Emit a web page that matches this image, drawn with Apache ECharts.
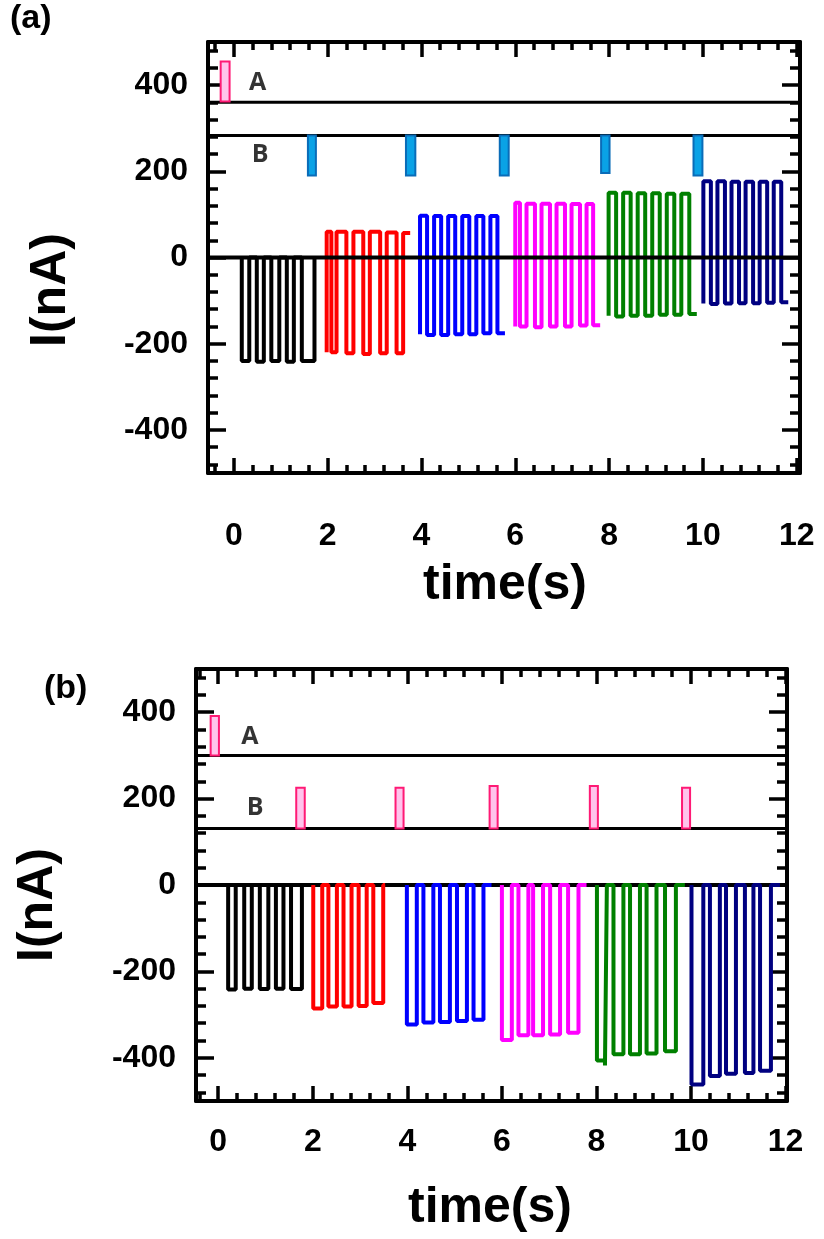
<!DOCTYPE html>
<html><head><meta charset="utf-8">
<script src="https://cdn.jsdelivr.net/npm/echarts@6/dist/echarts.min.js"></script>
<style>html,body{margin:0;padding:0;background:#fff}#c{width:824px;height:1239px}</style>
</head><body><div id="c"></div>
<script>
// ---------- tick values ----------
const xMajorTicks = [0, 2, 4, 6, 8, 10, 12];
const xMinorTicks = [-0.4, 0.4, 0.8, 1.2, 1.6, 2.4, 2.8, 3.2, 3.6, 4.4, 4.8, 5.2, 5.6, 6.4, 6.8, 7.2, 7.6, 8.4, 8.8, 9.2, 9.6, 10.4, 10.8, 11.2, 11.6];
const yMajorTicks = [-400, -200, 0, 200, 400];
const yMinorTicks = [-480, -440, -360, -320, -280, -240, -160, -120, -80, -40, 40, 80, 120, 160, 240, 280, 320, 360, 440, 480];

// ---------- panel (a) waveforms [time, level] (step) ----------
const a_black = [[0.17,0],[0.17,-240],[0.33,0],[0.49,-242],[0.64,0],[0.80,-240],[0.97,0],[1.13,-242],[1.28,0],[1.45,-240],[1.72,0]];
const a_red = [[1.98,-220],[1.98,60],[2.08,-220],[2.19,60],[2.40,-222],[2.55,60],[2.76,-224],[2.90,60],[3.12,-222],[3.26,58],[3.47,-222],[3.61,57],[3.76,57]];
const a_blue = [[3.97,-178],[3.97,97],[4.12,-180],[4.27,96],[4.42,-180],[4.57,96],[4.72,-178],[4.87,96],[5.02,-178],[5.17,96],[5.32,-176],[5.47,96],[5.62,-176],[5.78,-176]];
const a_magenta = [[6.00,-160],[6.00,127],[6.10,-160],[6.24,125],[6.42,-162],[6.56,125],[6.74,-160],[6.88,125],[7.06,-160],[7.20,124],[7.38,-158],[7.52,124],[7.66,-157],[7.81,-157]];
const a_green = [[7.99,-135],[7.99,150],[8.15,-137],[8.30,150],[8.46,-135],[8.61,149],[8.77,-135],[8.92,149],[9.08,-133],[9.23,148],[9.39,-133],[9.54,148],[9.71,-131],[9.87,-131]];
const a_navy = [[10.01,-107],[10.01,177],[10.17,-108],[10.31,177],[10.47,-107],[10.61,176],[10.77,-106],[10.91,176],[11.07,-106],[11.21,176],[11.37,-105],[11.51,176],[11.67,-104],[11.82,-104]];

// ---------- panel (b) waveforms ----------
const b_black = [[0.21,0],[0.21,-242],[0.37,0],[0.55,-240],[0.71,0],[0.88,-241],[1.06,0],[1.22,-240],[1.38,0],[1.54,-241],[1.77,0]];
const b_red = [[2.01,0],[2.01,-286],[2.20,0],[2.33,-281],[2.51,0],[2.65,-281],[2.82,0],[2.97,-280],[3.14,0],[3.28,-273],[3.49,0],[3.53,0]];
const b_blue = [[3.99,0],[3.99,-323],[4.20,0],[4.34,-318],[4.55,0],[4.69,-317],[4.90,0],[5.05,-315],[5.26,0],[5.40,-312],[5.61,0],[5.78,0]];
const b_magenta = [[6.00,0],[6.00,-359],[6.21,0],[6.35,-348],[6.56,0],[6.66,-348],[6.87,0],[7.02,-346],[7.23,0],[7.40,-342],[7.62,0],[7.79,0]];
const b_green = [[8.01,0],[8.01,-406],[8.18,-418],[8.22,0],[8.36,-392],[8.57,0],[8.71,-392],[8.92,0],[9.06,-390],[9.27,0],[9.45,-385],[9.68,0],[9.87,0]];
const b_navy = [[10.01,0],[10.01,-462],[10.26,0],[10.40,-442],[10.61,0],[10.74,-437],[10.95,0],[11.14,-435],[11.32,0],[11.46,-430],[11.69,0],[11.88,0]];

// ---------- stimulus pulses [x1, y1, x2, y2] ----------
const a_stimA = [[-0.28, 362, -0.09, 455]];
const a_stimB = [[1.58, 190, 1.75, 283],[3.67, 190, 3.87, 283],[5.67, 190, 5.86, 283],[7.83, 196, 8.01, 283],[9.80, 190, 9.99, 283]];
const b_stimA = [[-0.16, 300, 0.015, 391]];
const b_stimB = [[1.65, 131, 1.83, 225],[3.75, 131, 3.92, 225],[5.74, 131, 5.91, 229],[7.86, 131, 8.03, 229],[9.81, 131, 9.98, 225]];

// reference lines
const a_refLevels = [360, 283];
const b_refLevels = [300, 131];
const zeroLevel = 0;

// text labels [x, y, text]
const a_textLabels = [[0.51, 405, 'A'], [0.56, 238, 'B']];
const b_textLabels = [[0.67, 342, 'A'], [0.78, 178, 'B']];

const waveColors = ['#000000', '#ff0000', '#0000ff', '#ff00ff', '#008000', '#000080'];

// ---------- layout ----------
const panels = [
  {grid: {left: 208, top: 42, width: 592, height: 431}, xr: [-0.55, 12.07], xMargin: 47},
  {grid: {left: 196, top: 669, width: 591, height: 432}, xr: [-0.47, 12.03], xMargin: 25}
];
const FONT = 'Liberation Sans';

const xAxes = [], yAxes = [], grids = [];
panels.forEach((p, g) => {
  grids.push(p.grid);
  const base = {type: 'value', gridIndex: g, min: p.xr[0], max: p.xr[1], splitLine: {show: false}};
  const line = {show: true, onZero: false, lineStyle: {color: '#000', width: 4}};
  const noLine = {show: false, onZero: false};
  const tick = (vals, len) => ({show: true, inside: true, length: len, customValues: vals, lineStyle: {color: '#000', width: 3.5}});
  const lbl = (vals) => ({show: true, customValues: vals, fontSize: 32, fontWeight: 'bold', fontFamily: FONT, color: '#000'});
  xAxes.push(Object.assign({}, base, {position: 'bottom', axisLine: line, axisTick: tick(xMajorTicks, 15),
    axisLabel: Object.assign(lbl(xMajorTicks), {margin: p.xMargin})}));
  xAxes.push(Object.assign({}, base, {position: 'bottom', axisLine: noLine, axisTick: tick(xMinorTicks, 8), axisLabel: {show: false}}));
  xAxes.push(Object.assign({}, base, {position: 'top', axisLine: line, axisTick: tick(xMajorTicks, 15), axisLabel: {show: false}}));
  xAxes.push(Object.assign({}, base, {position: 'top', axisLine: noLine, axisTick: tick(xMinorTicks, 8), axisLabel: {show: false}}));
  const ybase = {type: 'value', gridIndex: g, min: -500, max: 500, splitLine: {show: false}};
  yAxes.push(Object.assign({}, ybase, {position: 'left', axisLine: line, axisTick: tick(yMajorTicks, 18),
    axisLabel: Object.assign(lbl(yMajorTicks), {margin: 20})}));
  yAxes.push(Object.assign({}, ybase, {position: 'left', axisLine: noLine, axisTick: tick(yMinorTicks, 10), axisLabel: {show: false}}));
  yAxes.push(Object.assign({}, ybase, {position: 'right', axisLine: line, axisTick: tick(yMajorTicks, 18), axisLabel: {show: false}}));
  yAxes.push(Object.assign({}, ybase, {position: 'right', axisLine: noLine, axisTick: tick(yMinorTicks, 10), axisLabel: {show: false}}));
});

function wave(data, g, color, z) {
  return {type: 'line', xAxisIndex: 4 * g, yAxisIndex: 4 * g, data: data, step: 'end', symbol: 'none',
    lineStyle: {color: color, width: 4}, z: z, silent: true, clip: false};
}
function hline(level, g, x0, x1, w) {
  return {type: 'line', xAxisIndex: 4 * g, yAxisIndex: 4 * g, data: [[x0, level], [x1, level]], symbol: 'none',
    lineStyle: {color: '#000', width: w}, z: g === 0 ? 5 : 1, silent: true, clip: false};
}
function rects(data, g, fill, stroke) {
  return {type: 'custom', xAxisIndex: 4 * g, yAxisIndex: 4 * g, data: data, encode: {x: [0, 2], y: [1, 3]}, clip: false, z: 6, silent: true,
    renderItem: function (params, api) {
      const p1 = api.coord([api.value(0), api.value(1)]);
      const p2 = api.coord([api.value(2), api.value(3)]);
      return {type: 'rect', shape: {x: Math.min(p1[0], p2[0]), y: Math.min(p1[1], p2[1]), width: Math.abs(p2[0] - p1[0]), height: Math.abs(p2[1] - p1[1])},
        style: {fill: fill, stroke: stroke, lineWidth: 2}};
    }};
}
function texts(data, g) {
  return {type: 'scatter', xAxisIndex: 4 * g, yAxisIndex: 4 * g, symbolSize: 1, itemStyle: {color: 'rgba(0,0,0,0)'}, silent: true, z: 7,
    data: data.map(d => ({value: [d[0], d[1]], name: d[2]})),
    label: {show: true, position: 'inside', formatter: '{b}', fontSize: 25, fontWeight: 'bold', fontFamily: 'Open Sans', color: '#000'}};
}

const series = [];
// panel a
[a_black, a_red, a_blue, a_magenta, a_green, a_navy].forEach((d, i) => series.push(wave(d, 0, waveColors[i], 3)));
series.push(hline(zeroLevel, 0, panels[0].xr[0], panels[0].xr[1], 4));
series.push(hline(a_refLevels[0], 0, panels[0].xr[0], panels[0].xr[1], 3));
series.push(hline(a_refLevels[1], 0, panels[0].xr[0] - 0.09, panels[0].xr[1], 3));
series.push(rects(a_stimA, 0, '#ffc4ec', '#ff1a75'));
series.push(rects(a_stimB, 0, '#0aa2e6', '#0a6cb8'));
series.push(texts(a_textLabels, 0));
// panel b
[b_black, b_red, b_blue, b_magenta, b_green, b_navy].forEach((d, i) => series.push(wave(d, 1, waveColors[i], 3)));
series.push(hline(zeroLevel, 1, panels[1].xr[0], panels[1].xr[1], 4));
series.push(hline(b_refLevels[0], 1, panels[1].xr[0], panels[1].xr[1], 3));
series.push(hline(b_refLevels[1], 1, panels[1].xr[0] - 0.12, panels[1].xr[1], 3));
series.push(rects(b_stimA, 1, '#ffc4ec', '#ff1a75'));
series.push(rects(b_stimB, 1, '#ffc4ec', '#ff1a75'));
series.push(texts(b_textLabels, 1));

const bigFont = {fontSize: 50, fontWeight: 'bold', fontFamily: FONT, fill: '#000'};
const graphic = [
  {type: 'text', left: 10, top: 2, style: {text: '(a)', fontSize: 34, fontWeight: 'bold', fontFamily: FONT, fill: '#000'}},
  {type: 'text', left: 44, top: 672, style: {text: '(b)', fontSize: 34, fontWeight: 'bold', fontFamily: FONT, fill: '#000'}},
  {type: 'text', x: 51, y: 290, rotation: Math.PI / 2, style: Object.assign({text: 'I(nA)', align: 'center', verticalAlign: 'middle'}, bigFont)},
  {type: 'text', x: 38, y: 905, rotation: Math.PI / 2, style: Object.assign({text: 'I(nA)', align: 'center', verticalAlign: 'middle'}, bigFont)},
  {type: 'text', x: 505, y: 585, style: Object.assign({text: 'time(s)', align: 'center', verticalAlign: 'middle'}, bigFont)},
  {type: 'text', x: 490, y: 1208, style: Object.assign({text: 'time(s)', align: 'center', verticalAlign: 'middle'}, bigFont)}
];

const chart = echarts.init(document.getElementById('c'), null, {renderer: 'canvas'});
chart.setOption({animation: false, backgroundColor: '#fff', grid: grids, xAxis: xAxes, yAxis: yAxes, series: series, graphic: graphic});
</script></body></html>
